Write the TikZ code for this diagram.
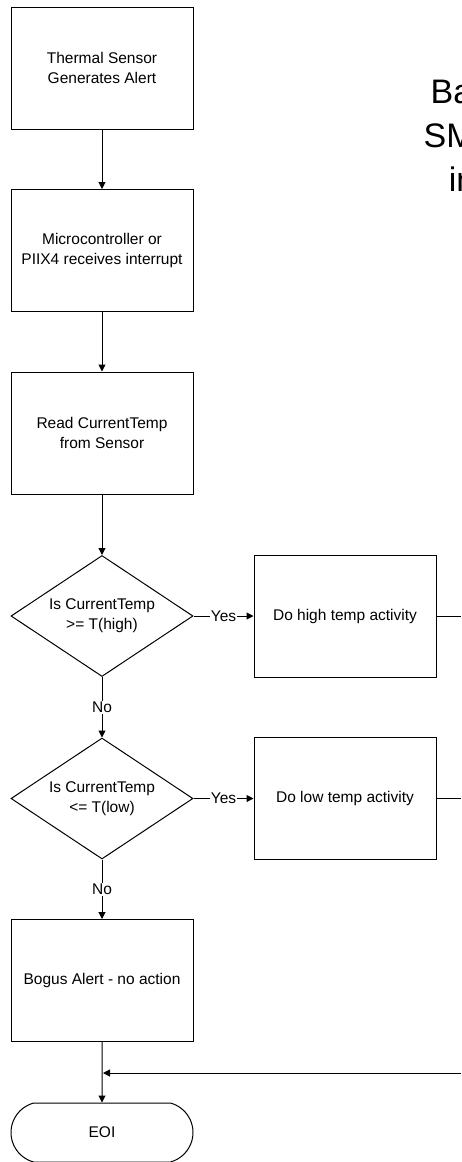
\documentclass[tikz,border=0pt]{standalone}
\usepackage{fontspec}
\setmainfont{Liberation Sans}
\usetikzlibrary{arrows.meta,shapes.geometric,shapes.misc}

\tikzset{
    procbox/.style={draw,line width=1pt,minimum width=182pt,minimum height=122pt,inner sep=0pt,align=center},
    decision/.style={draw,diamond,shape aspect=1.5,line width=1pt,minimum width=182pt,minimum height=121pt,inner sep=0pt,align=center},
    terminal/.style={draw,rounded rectangle,rounded rectangle arc length=150,line width=1pt,minimum width=182pt,minimum height=59pt,inner sep=0pt},
    flow/.style={line width=1pt,-{Triangle[length=7pt,width=7pt]}},
    lbl/.style={fill=white,inner sep=1pt},
    heading/.style={font=\fontsize{34}{44}\selectfont,inner sep=0pt,anchor=base west}
}

\begin{document}
\begin{tikzpicture}[x=1pt,y=-1pt,every node/.append style={font=\fontsize{15.5}{20}\selectfont}]
        \useasboundingbox (0,0) rectangle (461,1162);
        \clip (0,0) rectangle (461,1162);
        % main column
        \node[procbox] (alert) at (102,68) {Thermal Sensor\\Generates Alert};
        \node[procbox] (irq) at (102,250.5) {Microcontroller or\\PIIX4 receives interrupt};
        \node[procbox] (read) at (102,433) {Read CurrentTemp\\from Sensor};
        \node[decision] (ishigh) at (102,616) {Is CurrentTemp\\>= T(high)};
        \node[decision] (islow) at (102,798.5) {Is CurrentTemp\\<= T(low)};
        \node[procbox] (bogus) at (102,980.5) {Bogus Alert - no action};
        \node[terminal] (eoi) at (102,1132.5) {EOI};
        % actions
        \node[procbox] (high) at (345,616) {Do high temp activity};
        \node[procbox] (low) at (345,798.5) {Do low temp activity};
        % heading, cut by the edge
        \node[heading] (ttla) at (430.5,103) {Ba};
        \node[heading] (ttlb) at (423.4,147) {SM};
        \node[heading] (ttlc) at (448.7,191) {in};
        % connectors
        \draw[flow] (alert) -- (irq);
        \draw[flow] (irq) -- (read);
        \draw[flow] (read) -- (ishigh);
        \draw[flow] (ishigh) -- node[lbl] {Yes} (high);
        \draw[flow] (ishigh) -- node[lbl] {No} (islow);
        \draw[flow] (islow) -- node[lbl] {Yes} (low);
        \draw[flow] (islow) -- node[lbl] {No} (bogus);
        \draw[flow] (bogus) -- (eoi);
        \coordinate (highout) at (461,616);
        \coordinate (lowout) at (461,798.5);
        \coordinate (backin) at (461,1073);
        \coordinate (merge) at (103,1073);
        \draw[line width=1pt] (high.east) -- (highout);
        \draw[line width=1pt] (low.east) -- (lowout);
        \draw[flow] (backin) -- (merge);
    \end{tikzpicture}
\end{document}
